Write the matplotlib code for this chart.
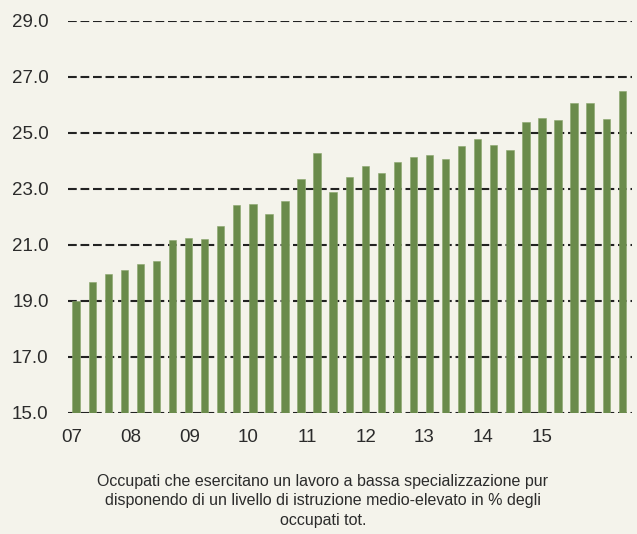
import numpy as np
import matplotlib
matplotlib.use("Agg")
import matplotlib.pyplot as plt

# Quarterly values, 2007 Q1 .. 2015 Q3
values = [
    19.00, 19.68, 19.95, 20.09, 20.30, 20.41, 21.18, 21.24, 21.20, 21.67,
    22.43, 22.45, 22.09, 22.57, 23.35, 24.28, 22.90, 23.42, 23.83, 23.56,
    23.95, 24.13, 24.20, 24.08, 24.53, 24.77, 24.57, 24.40, 25.38, 25.53,
    25.45, 26.08, 26.06, 25.49, 26.50,
]
year_labels = ["07", "08", "09", "10", "11", "12", "13", "14", "15"]
y_ticks = [15, 17, 19, 21, 23, 25, 27, 29]
caption = ("Occupati che esercitano un lavoro a bassa specializzazione pur\n"
           "disponendo di un livello di istruzione medio-elevato in % degli\n"
           "occupati tot.")

BG = "#f4f3eb"
BAR = "#6a8b4b"
TXT = "#2b2b2b"

plt.rcParams["font.family"] = ["Liberation Sans", "DejaVu Sans"]

fig = plt.figure(figsize=(6.37, 5.34), dpi=100, facecolor=BG)
ax = fig.add_axes([0.107, 0.227, 0.885, 0.734], facecolor=BG)

x = np.arange(len(values))
ax.bar(x, np.array(values) - 15, bottom=15, width=0.46, color=BAR,
       edgecolor="#8aa56d", linewidth=0.4, zorder=3)

for yv in y_ticks:
    ax.axhline(yv, color="#222222", linestyle=(0, (4.2, 1.8)), linewidth=1.5,
               zorder=2)

ax.set_xlim(-0.5, 34.6)
ax.set_ylim(15, 29)
ax.set_yticks(y_ticks)
ax.set_yticklabels([f"{v:.1f}" for v in y_ticks], fontsize=13.5, color=TXT)

# year labels are spread evenly beneath the bars
ax.set_xticks(np.arange(len(year_labels)) * 3.655 - 0.25)
ax.set_xticklabels(year_labels, fontsize=13.5, color=TXT)
ax.tick_params(axis="both", length=0)
ax.tick_params(axis="y", pad=14)
ax.tick_params(axis="x", pad=12)

for s in ax.spines.values():
    s.set_visible(False)

fig.text(0.507, 0.062, caption, ha="center", va="center", fontsize=11.5,
         color=TXT, linespacing=1.38)

fig.savefig("out.png", dpi=100, facecolor=BG)
